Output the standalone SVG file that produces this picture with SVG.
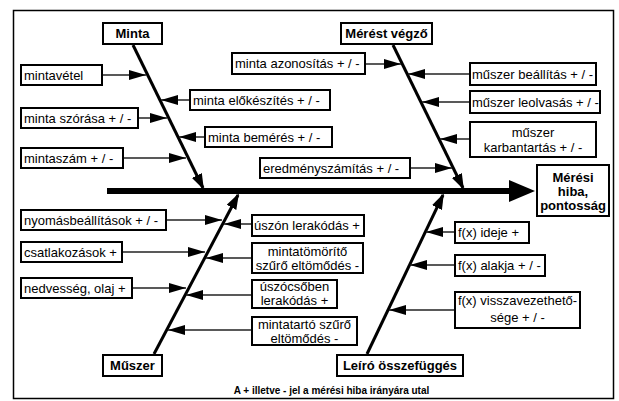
<svg xmlns="http://www.w3.org/2000/svg" width="619" height="401" viewBox="0 0 619 401">
<style>
.bx{fill:#fff;stroke:#000;stroke-width:2}
.t{font-family:"Liberation Sans",Arial,sans-serif;font-size:13px;fill:#000}
.b{font-weight:bold}
.c{text-anchor:middle}
.rib{stroke:#222;stroke-width:1.5;fill:none;marker-end:url(#ah)}
.bone{stroke:#000;stroke-width:3;fill:none;marker-end:url(#bh)}
</style>
<defs>
<marker id="ah" markerUnits="userSpaceOnUse" markerWidth="17" markerHeight="10" refX="17" refY="5" orient="auto"><path d="M0,0 L17,5 L0,10 z" fill="#000"/></marker>
<marker id="bh" markerUnits="userSpaceOnUse" markerWidth="16" markerHeight="11" refX="14" refY="5.5" orient="auto"><path d="M0,0 L16,5.5 L0,11 z" fill="#000"/></marker>
<marker id="mh" markerUnits="userSpaceOnUse" markerWidth="26" markerHeight="22" refX="0" refY="11" orient="auto"><path d="M0,0 L26,11 L0,22 z" fill="#000"/></marker>
</defs>
<rect x="13.5" y="10.5" width="600" height="388" fill="#fff" stroke="#000" stroke-width="1.5"/>
<g id="connectors">
<line x1="107" y1="191" x2="509" y2="191" stroke="#000" stroke-width="6" marker-end="url(#mh)"/>
<line class="bone" x1="133" y1="45" x2="203" y2="188"/>
<line class="bone" x1="393" y1="45" x2="463" y2="188"/>
<line class="bone" x1="154" y1="354" x2="238" y2="195"/>
<line class="bone" x1="367" y1="354" x2="443" y2="195"/>
<line class="rib" x1="102" y1="75" x2="146" y2="75"/>
<line class="rib" x1="190" y1="100" x2="161" y2="100"/>
<line class="rib" x1="138" y1="118" x2="167" y2="118"/>
<line class="rib" x1="205" y1="137" x2="179" y2="137"/>
<line class="rib" x1="123" y1="158" x2="186" y2="158"/>
<line class="rib" x1="365" y1="64" x2="401" y2="64"/>
<line class="rib" x1="470" y1="74" x2="408" y2="74"/>
<line class="rib" x1="470" y1="102" x2="422" y2="102"/>
<line class="rib" x1="470" y1="139" x2="440" y2="139"/>
<line class="rib" x1="410" y1="168" x2="452" y2="168"/>
<line class="rib" x1="166" y1="220" x2="222" y2="220"/>
<line class="rib" x1="252" y1="224" x2="224" y2="224"/>
<line class="rib" x1="122" y1="252" x2="205" y2="252"/>
<line class="rib" x1="252" y1="258" x2="206" y2="258"/>
<line class="rib" x1="132" y1="288" x2="186" y2="288"/>
<line class="rib" x1="252" y1="295" x2="186" y2="295"/>
<line class="rib" x1="252" y1="330" x2="168" y2="330"/>
<line class="rib" x1="455" y1="232" x2="426" y2="232"/>
<line class="rib" x1="455" y1="265" x2="410" y2="265"/>
<line class="rib" x1="455" y1="310" x2="389" y2="310"/>
</g>
<g id="head"><rect class="bx" x="537" y="165" width="72" height="51"/><text class="t b c" x="573" y="182">Mérési</text><text class="t b c" x="573" y="196">hiba,</text><text class="t b c" x="573" y="210">pontosság</text></g>
<g id="minta"><rect class="bx" x="103" y="23" width="59" height="21"/><text class="t b c" x="132.5" y="38">Minta</text></g>
<g id="meresvegzo"><rect class="bx" x="341" y="23" width="91" height="21"/><text class="t b c" x="386.5" y="38">Mérést végző</text></g>
<g id="muszer"><rect class="bx" x="103" y="355" width="59" height="21"/><text class="t b c" x="132.5" y="370">Műszer</text></g>
<g id="leiro"><rect class="bx" x="337" y="355" width="126" height="21"/><text class="t b c" x="400" y="370">Leíró összefüggés</text></g>
<g id="mintavetel"><rect class="bx" x="21" y="65" width="81" height="20"/><text class="t" x="24" y="79.6">mintavétel</text></g>
<g id="elokeszites"><rect class="bx" x="190" y="90" width="140" height="20"/><text class="t" x="193" y="104.6">minta előkészítés + / -</text></g>
<g id="szorasa"><rect class="bx" x="21" y="108" width="117" height="20"/><text class="t" x="24" y="122.6">minta szórása + / -</text></g>
<g id="bemeres"><rect class="bx" x="205" y="127" width="127" height="20"/><text class="t" x="208" y="141.6">minta bemérés + / -</text></g>
<g id="mintaszam"><rect class="bx" x="21" y="148" width="102" height="20"/><text class="t" x="24" y="162.6">mintaszám + / -</text></g>
<g id="azonositas"><rect class="bx" x="232" y="53" width="133" height="21"/><text class="t" x="235" y="68">minta azonosítás + / -</text></g>
<g id="beallitas"><rect class="bx" x="470" y="63" width="126" height="22"/><text class="t" x="472" y="78.6">műszer beállítás + / -</text></g>
<g id="leolvasas"><rect class="bx" x="470" y="91" width="130" height="22"/><text class="t" x="472" y="106.6">műszer leolvasás + / -</text></g>
<g id="karbantartas"><rect class="bx" x="470" y="122" width="126" height="35"/><text class="t c" x="533" y="137">műszer</text><text class="t c" x="533" y="152">karbantartás + / -</text></g>
<g id="eredmeny"><rect class="bx" x="260" y="158" width="150" height="20"/><text class="t" x="263" y="172.6">eredményszámítás + / -</text></g>
<g id="nyomas"><rect class="bx" x="21" y="210" width="145" height="20"/><text class="t" x="24" y="224.6">nyomásbeállítások + / -</text></g>
<g id="uszon"><rect class="bx" x="252" y="215" width="112" height="21"/><text class="t" x="254" y="230">úszón lerakódás +</text></g>
<g id="csatlakozasok"><rect class="bx" x="21" y="242" width="101" height="20"/><text class="t" x="24" y="256.6">csatlakozások +</text></g>
<g id="mintatomorito"><rect class="bx" x="252" y="243" width="111" height="30"/><text class="t c" x="307.5" y="256">mintatömörítő</text><text class="t c" x="307.5" y="270">szűrő eltömődés -</text></g>
<g id="nedvesseg"><rect class="bx" x="21" y="278" width="111" height="20"/><text class="t" x="24" y="292.6">nedvesség, olaj +</text></g>
<g id="uszocso"><rect class="bx" x="252" y="280" width="85" height="28"/><text class="t c" x="294.5" y="291">úszócsőben</text><text class="t c" x="294.5" y="305">lerakódás +</text></g>
<g id="mintatarto"><rect class="bx" x="252" y="317" width="105" height="28"/><text class="t c" x="304.5" y="328.5">mintatartó szűrő</text><text class="t c" x="304.5" y="342.5">eltömődés -</text></g>
<g id="ideje"><rect class="bx" x="455" y="222" width="74" height="21"/><text class="t" x="458" y="237">f(x) ideje +</text></g>
<g id="alakja"><rect class="bx" x="455" y="255" width="90" height="21"/><text class="t" x="458" y="270">f(x) alakja + / -</text></g>
<g id="visszavezet"><rect class="bx" x="455" y="292" width="125" height="36"/><text class="t c" x="517.5" y="305">f(x) visszavezethető-</text><text class="t c" x="517.5" y="322">sége + / -</text></g>
<text class="t b c" x="331.5" y="394" style="font-size:10px">A + illetve - jel a mérési hiba irányára utal</text>
</svg>
